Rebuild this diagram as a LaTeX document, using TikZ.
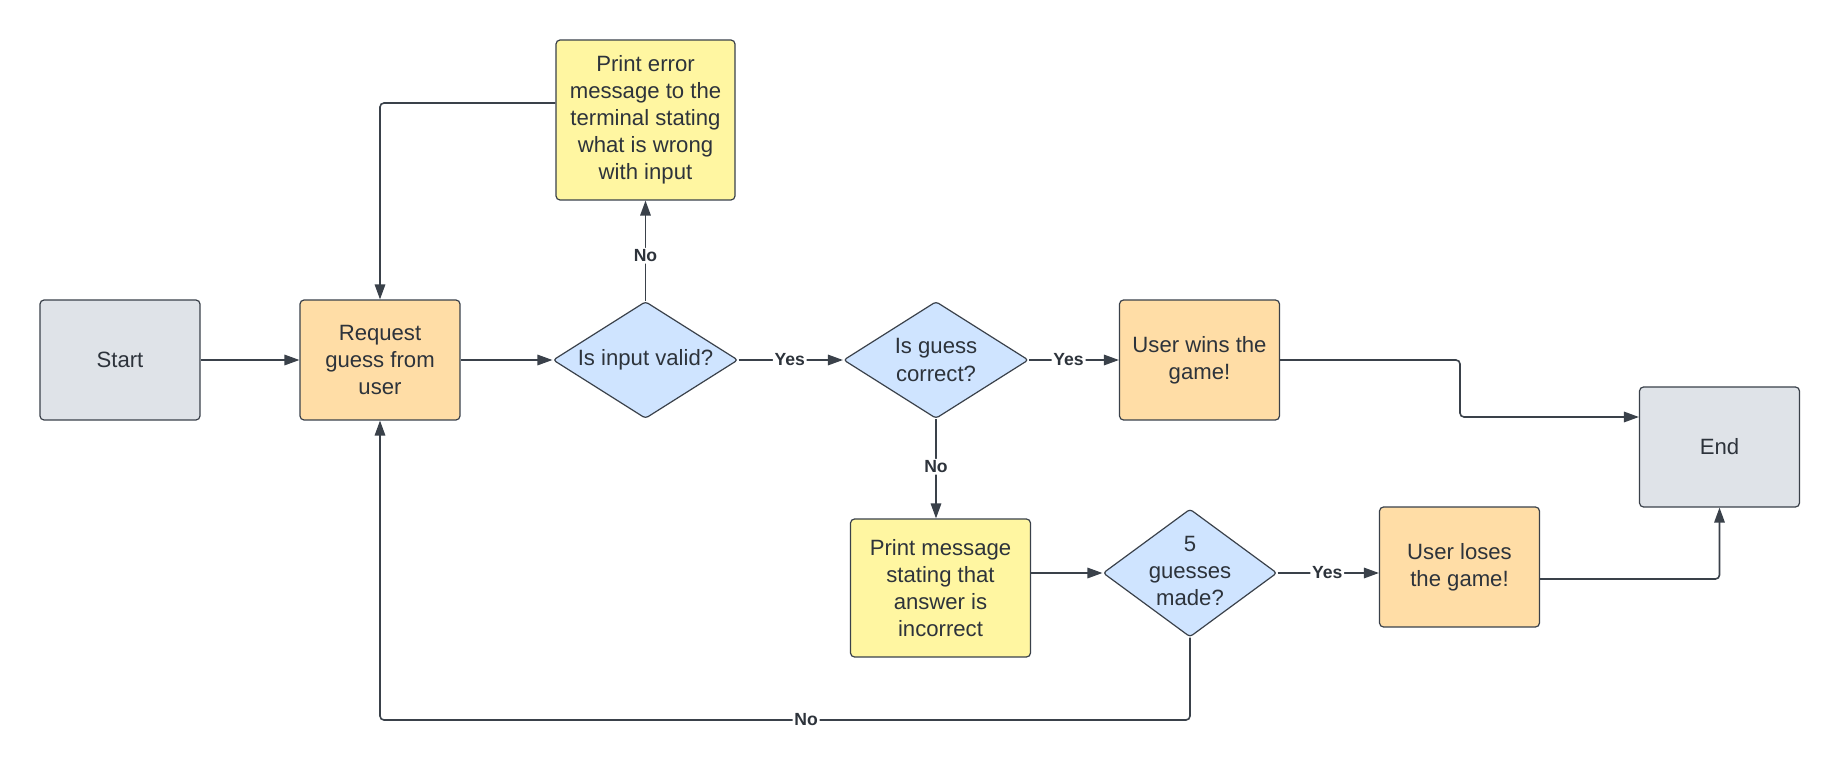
\documentclass[tikz,border=0pt]{standalone}
\usepackage{fontspec}
\setmainfont{Liberation Sans}
\usetikzlibrary{shapes.geometric,arrows.meta,positioning}
\definecolor{edgeclr}{HTML}{3A414A}
\definecolor{txtclr}{HTML}{2D333B}
\definecolor{greyfill}{HTML}{DFE3E8}
\definecolor{orangefill}{HTML}{FFDDA6}
\definecolor{yellowfill}{HTML}{FFF6A1}
\definecolor{bluefill}{HTML}{CFE4FF}

\begin{document}
\begin{tikzpicture}[x=0.02cm,y=-0.02cm,
        txt/.style={text=txtclr,align=center,font=\fontsize{12.6}{15.4}\selectfont},
        box/.style={txt,draw=edgeclr,line width=0.024cm,rounded corners=0.08cm,
            minimum width=3.2cm,minimum height=2.4cm,inner sep=2pt},
        decision/.style={draw=edgeclr,fill=bluefill,line width=0.024cm,shape=diamond,
            rounded corners=0.06cm,inner sep=0pt},
        flow/.style={draw=edgeclr,line width=0.032cm,rounded corners=0.08cm,
            -{Triangle[length=0.3cm,width=0.21cm]}},
        lbl/.style={fill=white,text=txtclr,inner sep=1pt,font=\fontsize{10}{12}\selectfont\bfseries}]
                \useasboundingbox (0,0) rectangle (1840,771);
                \fill[white] (0,0) rectangle (1840,771);
                % boxes
                \node[box,fill=greyfill] (start) at (120,360) {Start};
                \node[box,fill=orangefill] (request) at (380,360) {Request\\guess from\\user};
                \node[box,fill=yellowfill,minimum width=3.58cm,minimum height=3.2cm] (error) at (645.5,120)
                    {Print error\\message to the\\terminal stating\\what is wrong\\with input};
                \node[box,fill=orangefill] (wins) at (1199.5,360) {User wins the\\game!};
                \node[box,fill=greyfill] (end) at (1719.5,447) {End};
                \node[box,fill=yellowfill,minimum width=3.6cm,minimum height=2.76cm] (message) at (940.5,588)
                    {Print message\\stating that\\answer is\\incorrect};
                \node[box,fill=orangefill] (loses) at (1459.5,567) {User loses\\the game!};
                % decisions
                \node[decision,minimum width=3.7cm,minimum height=2.34cm,
                    label={[txt]center:Is input valid?}] (valid) at (645.5,360) {};
                \node[decision,minimum width=3.7cm,minimum height=2.34cm,
                    label={[txt]center:Is guess\\correct?}] (correct) at (936,360) {};
                \node[decision,minimum width=3.48cm,minimum height=2.56cm,
                    label={[txt,yshift=0.04cm]center:5\\guesses\\made?}] (guesses) at (1190,573) {};
                % connectors
                \draw[flow] (start.east) -- (request.west);
                \draw[flow] (request.east) -- (valid.west);
                \draw[flow] (valid.east) -- node[lbl,pos=0.49]{Yes} (correct.west);
                \draw[flow] (correct.east) -- node[lbl,pos=0.44]{Yes} (wins.west);
                \draw[flow] (valid.north) -- node[lbl,pos=0.45]{No} (error.south);
                \draw[flow] (error.west |- 0,103) -| (request.north);
                \draw[flow] (correct.south) -- node[lbl,pos=0.48]{No} (message.north -| correct.south);
                \draw[flow] (message.east |- guesses.west) -- (guesses.west);
                \draw[flow] (guesses.east) -- node[lbl,pos=0.49]{Yes} (guesses.east -| loses.west);
                \draw[flow] (wins.east) -- (1460,360) |- (end.west |- 0,417);
                \draw[flow] (loses.east |- 0,579) -| (end.south);
                \draw[flow] (guesses.south) -- (1190,720) -- node[lbl,pos=0.474]{No} (380,720) -- (request.south);
            \end{tikzpicture}
\end{document}
